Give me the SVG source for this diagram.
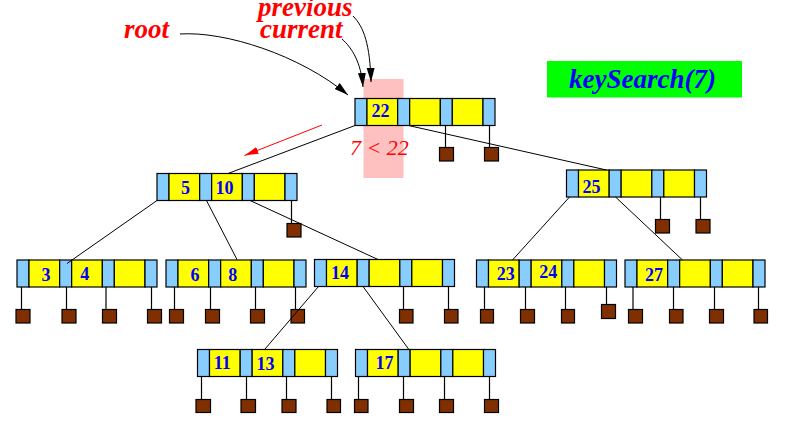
<svg xmlns="http://www.w3.org/2000/svg" xmlns:xlink="http://www.w3.org/1999/xlink" width="788" height="421" viewBox="0 0 788 421">
<style>
.cb{fill:#87ceff;stroke:#000;stroke-width:1.2}
.cy{fill:#ffff00;stroke:#000;stroke-width:1.2}
.sq{fill:#803000;stroke:#000;stroke-width:1.2}
.pl{stroke:#000;stroke-width:1.2;fill:none}
.ed{stroke:#000;stroke-width:1;fill:none}
.k{font-family:"Liberation Serif","Times New Roman",serif;font-weight:bold;font-size:18px;fill:#0000ff;text-anchor:middle}
.lab{font-family:"Liberation Serif","Times New Roman",serif;font-weight:bold;font-style:italic;font-size:27px;fill:#ff0000}
</style>
<defs>
<g id="node">
<rect class="cb" x="0" y="0" width="12" height="27"/>
<rect class="cy" x="12" y="0" width="30.67" height="27"/>
<rect class="cb" x="42.67" y="0" width="12" height="27"/>
<rect class="cy" x="54.67" y="0" width="30.67" height="27"/>
<rect class="cb" x="85.33" y="0" width="12" height="27"/>
<rect class="cy" x="97.33" y="0" width="30.67" height="27"/>
<rect class="cb" x="128" y="0" width="12" height="27"/>
</g>
<marker id="ah" markerUnits="userSpaceOnUse" markerWidth="16" markerHeight="10" refX="14" refY="4" orient="auto">
<path d="M0,0 L14,4 L0,8 z" fill="#000"/>
</marker>
<marker id="ahr" markerUnits="userSpaceOnUse" markerWidth="16" markerHeight="8" refX="14" refY="3.5" orient="auto">
<path d="M0,0 L14,3.5 L0,7 z" fill="#ff0000"/>
</marker>
</defs>
<rect width="788" height="421" fill="#fff"/>
<rect id="highlight" x="363.5" y="79" width="40" height="99" fill="#ffc0c0"/>

<g id="root">
<use xlink:href="#node" x="355" y="98.5"/>
<text class="k" x="380.5" y="117">22</text>
<line class="pl" x1="445.5" y1="125.5" x2="445.5" y2="147.5"/>
<line class="pl" x1="489.5" y1="125.5" x2="489.5" y2="147.5"/>
<rect class="sq" x="439.5" y="147.5" width="14" height="13.5"/>
<rect class="sq" x="484.5" y="147.5" width="14" height="13.5"/>
</g>

<g id="n5_10">
<use xlink:href="#node" x="157" y="173.5"/>
<text class="k" x="185.5" y="194">5</text>
<text class="k" x="224.5" y="194">10</text>
<line class="pl" x1="291.5" y1="200.5" x2="291.5" y2="223.5"/>
<rect class="sq" x="287" y="223.5" width="14" height="13.5"/>
</g>

<g id="n25">
<use xlink:href="#node" x="566.5" y="170"/>
<text class="k" x="591.5" y="193">25</text>
<line class="pl" x1="660.5" y1="197" x2="660.5" y2="219.5"/>
<line class="pl" x1="700.5" y1="197" x2="700.5" y2="219.5"/>
<rect class="sq" x="655.5" y="219.5" width="14" height="13.5"/>
<rect class="sq" x="696" y="219.5" width="14" height="13.5"/>
</g>

<g id="n3_4">
<use xlink:href="#node" x="17" y="260"/>
<text class="k" x="46" y="280.5">3</text>
<text class="k" x="84.7" y="280">4</text>
<line class="pl" x1="21.5" y1="287" x2="21.5" y2="309.5"/>
<line class="pl" x1="66.5" y1="287" x2="66.5" y2="309.5"/>
<line class="pl" x1="106" y1="287" x2="106" y2="309.5"/>
<line class="pl" x1="151.5" y1="287" x2="151.5" y2="309.5"/>
<rect class="sq" x="16" y="309.5" width="14" height="13.5"/>
<rect class="sq" x="62" y="309.5" width="14" height="13.5"/>
<rect class="sq" x="102.5" y="309.5" width="14" height="13.5"/>
<rect class="sq" x="147.5" y="309.5" width="14" height="13.5"/>
</g>

<g id="n6_8">
<use xlink:href="#node" x="166" y="260"/>
<text class="k" x="195" y="281">6</text>
<text class="k" x="232.7" y="280.5">8</text>
<line class="pl" x1="174.5" y1="287" x2="174.5" y2="309.5"/>
<line class="pl" x1="210.5" y1="287" x2="210.5" y2="309.5"/>
<line class="pl" x1="255.5" y1="287" x2="255.5" y2="309.5"/>
<line class="pl" x1="295.5" y1="287" x2="295.5" y2="309.5"/>
<rect class="sq" x="169.5" y="309.5" width="14" height="13.5"/>
<rect class="sq" x="205.5" y="309.5" width="14" height="13.5"/>
<rect class="sq" x="250.5" y="309.5" width="14" height="13.5"/>
<rect class="sq" x="291" y="309.5" width="13.5" height="13.5"/>
</g>

<g id="n14">
<use xlink:href="#node" x="314.5" y="259.5"/>
<text class="k" x="340" y="278.5">14</text>
<line class="pl" x1="403.5" y1="286.5" x2="403.5" y2="309.5"/>
<line class="pl" x1="448.5" y1="286.5" x2="448.5" y2="309.5"/>
<rect class="sq" x="399.5" y="309.5" width="13.5" height="13.5"/>
<rect class="sq" x="444.5" y="309.5" width="13.5" height="13.5"/>
</g>

<g id="n23_24">
<use xlink:href="#node" x="476.5" y="260"/>
<text class="k" x="505.7" y="279.5">23</text>
<text class="k" x="548.3" y="277.7">24</text>
<line class="pl" x1="484.5" y1="287" x2="484.5" y2="309.5"/>
<line class="pl" x1="525.5" y1="287" x2="525.5" y2="309.5"/>
<line class="pl" x1="565.5" y1="287" x2="565.5" y2="309.5"/>
<line class="pl" x1="606.5" y1="287" x2="606.5" y2="304.5"/>
<rect class="sq" x="480.5" y="309.5" width="13" height="13.5"/>
<rect class="sq" x="520.5" y="309.5" width="14" height="13.5"/>
<rect class="sq" x="561.5" y="309.5" width="13" height="13.5"/>
<rect class="sq" x="601.5" y="304.5" width="14" height="14"/>
</g>

<g id="n27">
<use xlink:href="#node" x="625" y="260"/>
<text class="k" x="654" y="280.5">27</text>
<line class="pl" x1="633" y1="287" x2="633" y2="309.5"/>
<line class="pl" x1="673.5" y1="287" x2="673.5" y2="309.5"/>
<line class="pl" x1="714.5" y1="287" x2="714.5" y2="309.5"/>
<line class="pl" x1="758.5" y1="287" x2="758.5" y2="309.5"/>
<rect class="sq" x="628.5" y="309.5" width="14" height="13.5"/>
<rect class="sq" x="669.5" y="309.5" width="13.5" height="13.5"/>
<rect class="sq" x="709.5" y="309.5" width="14" height="13.5"/>
<rect class="sq" x="754" y="309.5" width="13.5" height="13.5"/>
</g>

<g id="n11_13">
<use xlink:href="#node" x="197.5" y="349.5"/>
<text class="k" x="222.3" y="368.5">11</text>
<text class="k" x="265.5" y="370">13</text>
<line class="pl" x1="201.5" y1="376.5" x2="201.5" y2="399.5"/>
<line class="pl" x1="246.5" y1="376.5" x2="246.5" y2="399.5"/>
<line class="pl" x1="286.5" y1="376.5" x2="286.5" y2="399.5"/>
<line class="pl" x1="331.5" y1="376.5" x2="331.5" y2="399.5"/>
<rect class="sq" x="196" y="399.5" width="14.5" height="13"/>
<rect class="sq" x="241" y="399.5" width="14.5" height="13"/>
<rect class="sq" x="282" y="399.5" width="14" height="13"/>
<rect class="sq" x="327" y="399.5" width="13.5" height="13"/>
</g>

<g id="n17">
<use xlink:href="#node" x="355.5" y="349.5"/>
<text class="k" x="384.5" y="369.3">17</text>
<line class="pl" x1="358.5" y1="376.5" x2="358.5" y2="399.5"/>
<line class="pl" x1="403.5" y1="376.5" x2="403.5" y2="399.5"/>
<line class="pl" x1="444.5" y1="376.5" x2="444.5" y2="399.5"/>
<line class="pl" x1="489.5" y1="376.5" x2="489.5" y2="399.5"/>
<rect class="sq" x="354.5" y="399.5" width="13.5" height="13"/>
<rect class="sq" x="399.5" y="399.5" width="14" height="13"/>
<rect class="sq" x="439.5" y="399.5" width="14" height="13"/>
<rect class="sq" x="484.5" y="399.5" width="14" height="13"/>
</g>

<g id="connectors">
<line class="ed" x1="355" y1="125.5" x2="228" y2="173.5"/>
<line class="ed" x1="408.5" y1="125.5" x2="606.5" y2="170"/>
<line class="ed" x1="157" y1="200.5" x2="67" y2="263.5"/>
<line class="ed" x1="206.5" y1="200.5" x2="237" y2="259.5"/>
<line class="ed" x1="250" y1="200.5" x2="378" y2="259.5"/>
<line class="ed" x1="569.5" y1="197" x2="512.5" y2="260"/>
<line class="ed" x1="615.5" y1="197" x2="682.5" y2="260"/>
<line class="ed" x1="318.5" y1="286.5" x2="265" y2="349"/>
<line class="ed" x1="363" y1="286.5" x2="408.5" y2="349"/>
<path class="ed" d="M180,34 C225,31 300,55 348,95" marker-end="url(#ah)"/>
<path class="ed" d="M342,39 C352,48 361,62 363,87" marker-end="url(#ah)"/>
<path class="ed" d="M353,16 C364,27 370,45 371,82" marker-end="url(#ah)"/>
<line x1="322" y1="125" x2="244.5" y2="155.5" stroke="#ff0000" stroke-width="1" marker-end="url(#ahr)"/>
</g>

<g id="labels">
<text class="lab" x="124" y="38">root</text>
<text class="lab" x="258" y="16">previous</text>
<text class="lab" x="260" y="38">current</text>
<text x="350" y="155" font-family="'Liberation Serif','Times New Roman',serif" font-style="italic" font-size="22" fill="#ff0000">7 &lt; 22</text>
</g>

<g id="keysearch">
<rect x="547" y="61" width="195" height="36.5" fill="#00ff00"/>
<text x="569" y="87.5" font-family="'Liberation Serif','Times New Roman',serif" font-weight="bold" font-style="italic" font-size="27" fill="#0000ff">keySearch(7)</text>
</g>
</svg>
